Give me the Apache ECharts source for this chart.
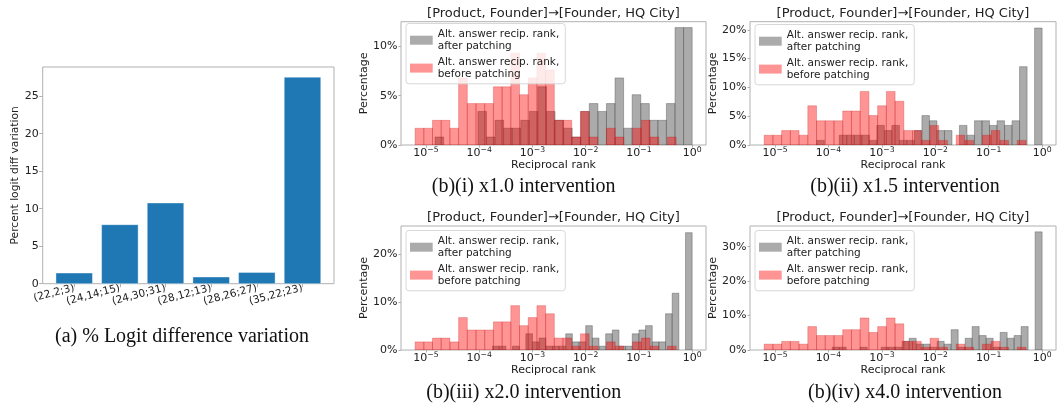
<!DOCTYPE html>
<html>
<head>
<meta charset="utf-8">
<script src="https://cdn.jsdelivr.net/npm/echarts@6/dist/echarts.min.js"></script>
<style>
  html, body { margin: 0; padding: 0; background: #fff; }
  #chart { width: 1057px; height: 408px; }
</style>
</head>
<body>
<div id="chart"></div>
<script>
// (a) percent logit diff variation per patched head
const CATEGORIES = ['(22,2;3)', '(24,14;15)', '(24,30;31)', '(28,12;13)', '(28,26;27)', '(35,22;23)'];
const LOGIT_VARIATION = [1.42, 7.87, 10.77, 0.89, 1.51, 27.54];
const BAR_TICKS = [0, 5, 10, 15, 20, 25];

// (b) histograms over log10(reciprocal rank), 30 bins each
const RANK_TICKS = [-5, -4, -3, -2, -1, 0];
const BEFORE_RANGE = [-5.205, -0.301];
const BEFORE_PCT = [1.7, 1.7, 2.5, 2.5, 1.7, 6.8, 4.2, 4.2, 4.2, 5.9, 5.9, 9.3, 5.1, 6.8, 9.3,
  7.6, 2.5, 2.5, 0.8, 3.4, 0.8, 0, 1.7, 0.8, 0, 1.7, 2.5, 0.8, 0, 0.8];

const AFTER_RANGE_X10 = [-4.83, 0];
const AFTER_PCT_X10 = [0.8, 0, 0, 0, 0, 3.4, 0.8, 2.5, 1.7, 1.7, 2.5, 3.4, 5.9, 3.4, 2.5,
  1.7, 0.8, 3.4, 4.2, 3.4, 4.2, 6.8, 1.7, 5.1, 4.2, 2.5, 2.5, 4.2, 11.9, 11.9];
const AFTER_RANGE_X15 = [-4.22, 0];
const AFTER_PCT_X15 = [0.8, 0, 0, 1.7, 1.7, 1.7, 1.7, 0.8, 3.4, 2.5, 3.4, 0.8, 0.8, 2.5, 5.1,
  4.2, 2.5, 2.5, 0, 3.4, 1.7, 4.2, 4.2, 3.4, 4.2, 3.4, 4.2, 13.6, 0, 20.3];
const AFTER_RANGE_X20 = [-3.75, 0];
const AFTER_PCT_X20 = [0.8, 0.8, 0, 0.8, 0, 3.4, 1.7, 2.5, 0.8, 0.8, 0.8, 3.4, 1.7, 1.7, 5.1,
  2.5, 0.8, 3.4, 4.2, 0.8, 0.8, 3.4, 4.2, 5.1, 1.7, 1.7, 7.6, 11.9, 0, 24.6];
const AFTER_RANGE_X40 = [-3.93, 0];
const AFTER_PCT_X40 = [0.8, 0.8, 0, 0, 0.8, 0, 0, 0.8, 0.8, 0.8, 2.5, 3.4, 1.7, 1.7, 0.8,
  2.5, 1.7, 5.9, 0.8, 3.4, 6.8, 4.2, 3.4, 0.8, 5.1, 3.4, 4.2, 6.8, 0, 34.3];

const GRAY_NAME = 'Alt. answer recip. rank,\nafter patching';
const RED_NAME = 'Alt. answer recip. rank,\nbefore patching';
const TITLE = '[Product, Founder]→[Founder, HQ City]';

const FRAME = '#b0b0b0';
const TEXT = '#222';
const SANS = 'DejaVu Sans';

const panels = [
  { left: 401, top: 21.7, width: 305, height: 123.3, ymax: 12.5, yticks: [0, 5, 10],
    range: AFTER_RANGE_X10, pct: AFTER_PCT_X10, legend: [406, 23.5], caption: '(b)(i) x1.0 intervention', capX: 523.7, capY: 187 },
  { left: 750, top: 21.7, width: 306, height: 123.3, ymax: 21.4, yticks: [0, 5, 10, 15, 20],
    range: AFTER_RANGE_X15, pct: AFTER_PCT_X15, legend: [755, 24.5], caption: '(b)(ii) x1.5 intervention', capX: 905, capY: 187 },
  { left: 401, top: 226, width: 305, height: 124, ymax: 26.0, yticks: [0, 10, 20],
    range: AFTER_RANGE_X20, pct: AFTER_PCT_X20, legend: [406, 230.5], caption: '(b)(iii) x2.0 intervention', capX: 523.7, capY: 393 },
  { left: 750, top: 226, width: 306, height: 124, ymax: 36.0, yticks: [0, 10, 20, 30],
    range: AFTER_RANGE_X40, pct: AFTER_PCT_X40, legend: [755, 230.5], caption: '(b)(iv) x4.0 intervention', capX: 905, capY: 393 }
];

function toBins(range, pct) {
  const w = (range[1] - range[0]) / pct.length;
  return pct.map((p, i) => [range[0] + i * w, range[0] + (i + 1) * w, p]);
}

function histRender(fill, stroke) {
  return function (params, api) {
    const h = api.value(2);
    if (!h) return null;
    const p0 = api.coord([api.value(0), h]);
    const p1 = api.coord([api.value(1), 0]);
    return {
      type: 'rect',
      shape: { x: p0[0], y: p0[1], width: p1[0] - p0[0], height: p1[1] - p0[1] },
      style: { fill: fill, stroke: stroke, lineWidth: 0.7 }
    };
  };
}

const GRAY_FILL = 'rgba(128,128,128,0.66)';
const GRAY_EDGE = 'rgba(70,70,70,0.55)';
const RED_FILL = 'rgba(255,0,0,0.42)';
const RED_EDGE = 'rgba(190,0,0,0.35)';

const grids = [{ left: 42.7, top: 67, width: 291.3, height: 216.7, show: true, borderColor: FRAME, borderWidth: 1 }];
const xAxes = [{
  gridIndex: 0, type: 'value', min: -0.69, max: 5.69,
  axisLine: { show: false }, splitLine: { show: false },
  axisTick: { customValues: [0, 1, 2, 3, 4, 5], length: 3.5, lineStyle: { color: FRAME } },
  axisLabel: { customValues: [0, 1, 2, 3, 4, 5], formatter: v => CATEGORIES[v], rotate: 15,
    fontSize: 10.5, color: TEXT, fontFamily: SANS, margin: 4 }
}];
const yAxes = [{
  gridIndex: 0, type: 'value', min: 0, max: 28.9,
  axisLine: { show: false, onZero: false }, splitLine: { show: false },
  axisTick: { show: true, customValues: BAR_TICKS, length: 3.5, lineStyle: { color: FRAME } },
  axisLabel: { customValues: BAR_TICKS, fontSize: 11, color: TEXT, fontFamily: SANS, margin: 4 },
  name: 'Percent logit diff variation', nameLocation: 'middle', nameGap: 17,
  nameTextStyle: { fontSize: 10.7, color: TEXT, fontFamily: SANS }
}];
const series = [{
  type: 'custom', xAxisIndex: 0, yAxisIndex: 0,
  data: LOGIT_VARIATION.map((v, i) => [i, v]),
  renderItem: function (params, api) {
    const p0 = api.coord([api.value(0) - 0.4, api.value(1)]);
    const p1 = api.coord([api.value(0) + 0.4, 0]);
    return {
      type: 'rect',
      shape: { x: p0[0], y: p0[1], width: p1[0] - p0[0], height: p1[1] - p0[1] },
      style: { fill: '#1f77b4', stroke: 'rgba(255,255,255,0.5)', lineWidth: 0.8 }
    };
  }
}];
const legends = [];
const graphics = [{
  type: 'text', x: 182, y: 336.7,
  style: { text: '(a) % Logit difference variation', fontFamily: 'Liberation Serif', fontSize: 20,
    fill: '#111', align: 'center', verticalAlign: 'middle' }
}];

panels.forEach((p, k) => {
  const gi = k + 1;
  grids.push({ left: p.left, top: p.top, width: p.width, height: p.height, show: true,
    borderColor: FRAME, borderWidth: 1 });
  xAxes.push({
    gridIndex: gi, type: 'value', min: -5.47, max: 0.26,
    axisLine: { show: false }, splitLine: { show: false },
    axisTick: { customValues: RANK_TICKS, length: 2.5, lineStyle: { color: FRAME } },
    axisLabel: {
      customValues: RANK_TICKS, margin: 1.5,
      formatter: v => '{b|10}{s|' + (v < 0 ? '\u2212' + (-v) : '0') + '}',
      rich: {
        b: { fontSize: 11, lineHeight: 13, color: TEXT, fontFamily: SANS, verticalAlign: 'middle' },
        s: { fontSize: 7.7, lineHeight: 8, color: TEXT, fontFamily: SANS, verticalAlign: 'top' }
      }
    },
    name: 'Reciprocal rank', nameLocation: 'middle', nameGap: 12.5,
    nameTextStyle: { fontSize: 11, color: TEXT, fontFamily: SANS }
  });
  yAxes.push({
    gridIndex: gi, type: 'value', min: 0, max: p.ymax,
    axisLine: { show: false, onZero: false }, splitLine: { show: false },
    axisTick: { show: true, customValues: p.yticks, length: 2.5, lineStyle: { color: FRAME } },
    axisLabel: { customValues: p.yticks, formatter: v => v + '%', fontSize: 11, color: TEXT,
      fontFamily: SANS, margin: 3.5 },
    name: 'Percentage', nameLocation: 'middle', nameGap: 27,
    nameTextStyle: { fontSize: 11, color: TEXT, fontFamily: SANS }
  });
  series.push({
    type: 'custom', name: GRAY_NAME, xAxisIndex: gi, yAxisIndex: gi, clip: true,
    itemStyle: { color: GRAY_FILL },
    data: toBins(p.range, p.pct), renderItem: histRender(GRAY_FILL, GRAY_EDGE)
  });
  series.push({
    type: 'custom', name: RED_NAME, xAxisIndex: gi, yAxisIndex: gi, clip: true,
    itemStyle: { color: RED_FILL },
    data: toBins(BEFORE_RANGE, BEFORE_PCT), renderItem: histRender(RED_FILL, RED_EDGE)
  });
  legends.push({
    left: p.legend[0], top: p.legend[1], orient: 'vertical', selectedMode: false,
    data: [GRAY_NAME, RED_NAME], icon: 'rect', itemWidth: 22.7, itemHeight: 9, itemGap: 4.5,
    itemStyle: { borderWidth: 0 },
    backgroundColor: 'rgba(255,255,255,0.8)', borderColor: '#d8d8d8', borderWidth: 1,
    borderRadius: 3, padding: [5, 6, 4, 4], z: 10,
    textStyle: { fontSize: 10.5, lineHeight: 11.7, color: TEXT, fontFamily: SANS }
  });
  graphics.push({
    type: 'text', x: p.left + p.width / 2, y: p.top - 8,
    style: { text: TITLE, fontFamily: SANS, fontSize: 13, fill: TEXT, align: 'center', verticalAlign: 'middle' }
  });
  graphics.push({
    type: 'text', x: p.capX, y: p.capY,
    style: { text: p.caption, fontFamily: 'Liberation Serif', fontSize: 20, fill: '#111',
      align: 'center', verticalAlign: 'middle' }
  });
});

const chart = echarts.init(document.getElementById('chart'));
chart.setOption({
  backgroundColor: '#fff',
  animation: false,
  textStyle: { fontFamily: SANS },
  grid: grids,
  xAxis: xAxes,
  yAxis: yAxes,
  legend: legends,
  series: series,
  graphic: graphics
});
</script>
</body>
</html>
